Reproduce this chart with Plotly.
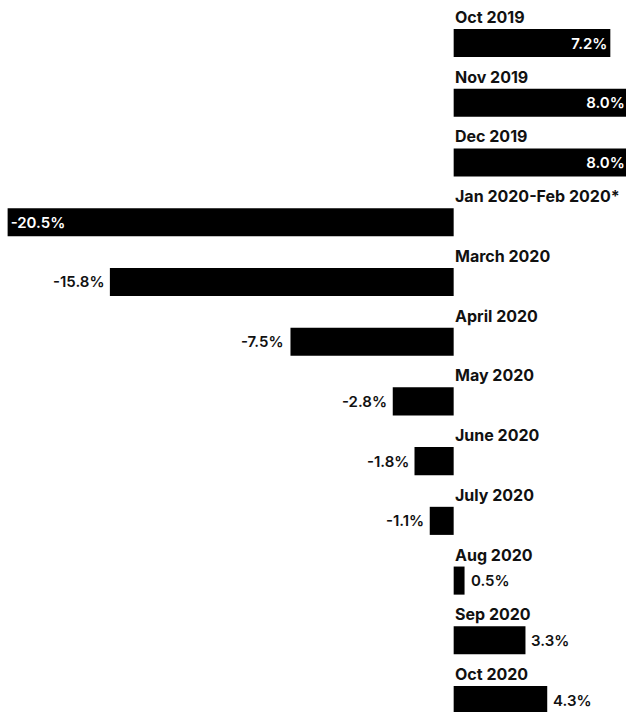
import plotly.graph_objects as go

categories = ["Oct 2019", "Nov 2019", "Dec 2019", "Jan 2020-Feb 2020*", "March 2020",
              "April 2020", "May 2020", "June 2020", "July 2020", "Aug 2020",
              "Sep 2020", "Oct 2020"]
values = [7.2, 8.0, 8.0, -20.5, -15.8, -7.5, -2.8, -1.8, -1.1, 0.5, 3.3, 4.3]
value_labels = ["7.2%", "8.0%", "8.0%", "-20.5%", "-15.8%", "-7.5%", "-2.8%",
                "-1.8%", "-1.1%", "0.5%", "3.3%", "4.3%"]
inside = [True, True, True, True] + [False] * 8

FONT = "Inter"

fig = go.Figure(go.Bar(
    x=values, y=categories, orientation="h",
    marker=dict(color="#000000", line=dict(width=0)),
    width=0.47, hoverinfo="skip",
    text=[lab if ins else "" for lab, ins in zip(value_labels, inside)],
    textposition=["inside" if ins else "none" for ins in inside],
    insidetextanchor="end", textangle=0, constraintext="none",
    insidetextfont=dict(family=FONT, size=15, color="#ffffff", weight=600),
))

ann = []
for c, v, lab, ins in zip(categories, values, value_labels, inside):
    ann.append(dict(x=0, y=c, xref="x", yref="y", text="<b>%s</b>" % c,
                    showarrow=False, xanchor="left", yanchor="middle",
                    yshift=26, xshift=-1,
                    font=dict(family=FONT, size=16, color="#111111")))
    if not ins:
        anchor = "left" if v > 0 else "right"
        shift = 4 if v > 0 else -4
        ann.append(dict(x=v, y=c, xref="x", yref="y", text=lab, showarrow=False,
                        xanchor=anchor, yanchor="middle", xshift=shift,
                        font=dict(family=FONT, size=15, color="#111111", weight=600)))

fig.update_layout(
    width=626, height=712,
    margin=dict(l=0, r=0, t=0, b=0),
    paper_bgcolor="white", plot_bgcolor="white",
    showlegend=False,
    annotations=ann,
    xaxis=dict(range=[-20.85, 7.92], visible=False, fixedrange=True),
    yaxis=dict(range=[11.2, -0.72], visible=False, type="category",
               categoryorder="array", categoryarray=categories, fixedrange=True),
)

fig.write_html("out.html", config=dict(displayModeBar=False))
